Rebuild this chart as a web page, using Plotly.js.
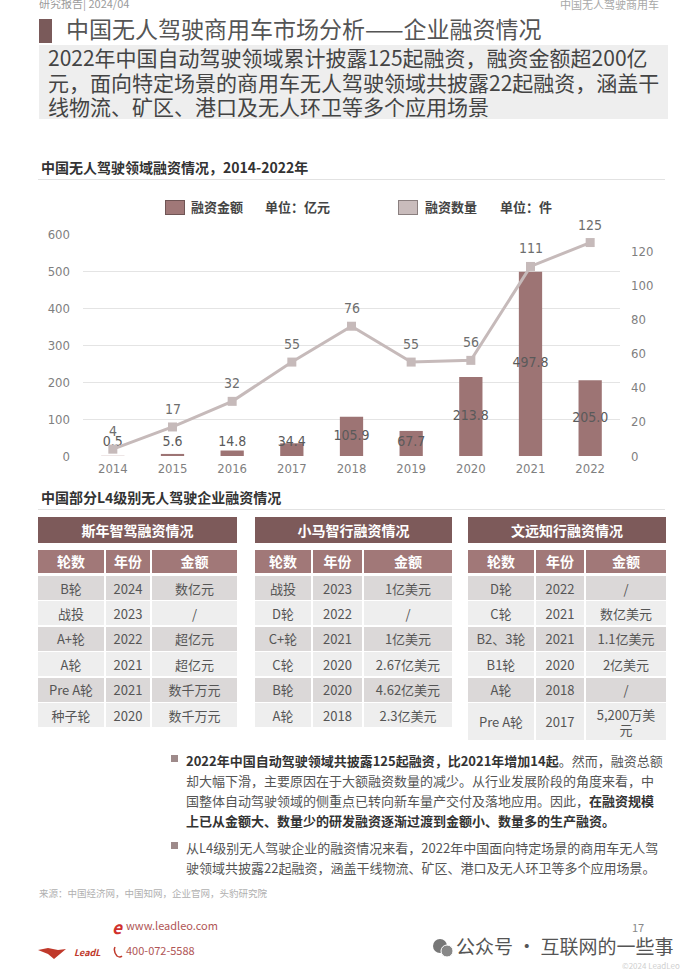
<!DOCTYPE html>
<html><head><meta charset="utf-8">
<script src="https://cdn.plot.ly/plotly-3.0.1.min.js"></script>
<style>
body{margin:0;width:700px;height:978px;position:relative;background:#fff;font-family:"Noto Sans CJK SC","Noto Sans",sans-serif;overflow:hidden;}
.a{position:absolute;white-space:nowrap;}
.cell{position:absolute;display:flex;align-items:center;justify-content:center;text-align:center;font-size:13px;color:#555;line-height:15px;}
</style></head><body>
<script>
// ---------- DATA ----------
const years = ["2014","2015","2016","2017","2018","2019","2020","2021","2022"];
const amounts = [0.5, 5.6, 14.8, 34.4, 105.9, 67.7, 213.8, 497.8, 205.0];
const counts = [4, 17, 32, 55, 76, 55, 56, 111, 125];
const leftTicks = [0,100,200,300,400,500,600];
const rightTicks = [0,20,40,60,80,100,120];
const tableHeads = ["轮数","年份","金额"];
const t1Title = "斯年智驾融资情况";
const t1Round = ["B轮","战投","A+轮","A轮","Pre A轮","种子轮"];
const t1Year = ["2024","2023","2022","2021","2021","2020"];
const t1Amount = ["数亿元","/","超亿元","超亿元","数千万元","数千万元"];
const t2Title = "小马智行融资情况";
const t2Round = ["战投","D轮","C+轮","C轮","B轮","A轮"];
const t2Year = ["2023","2022","2021","2020","2020","2018"];
const t2Amount = ["1亿美元","/","1亿美元","2.67亿美元","4.62亿美元","2.3亿美元"];
const t3Title = "文远知行融资情况";
const t3Round = ["D轮","C轮","B2、3轮","B1轮","A轮","Pre A轮"];
const t3Year = ["2022","2021","2021","2020","2018","2017"];
const t3Amount = ["/","数亿美元","1.1亿美元","2亿美元","/","5,200万美<br>元"];
</script>

<div class="a" style="left:39px;top:-5px;font-size:11px;color:#9a9a9a;">研究报告| 2024/04</div>
<div class="a" style="left:560px;top:-4px;font-size:11px;color:#a8a8a8;">中国无人驾驶商用车</div>

<div class="a" style="left:39px;top:19px;width:13px;height:24px;background:#7a5a5a;"></div>
<div class="a" style="left:66px;top:13px;font-size:23px;line-height:30px;color:#555;">中国无人驾驶商用车市场分析——企业融资情况</div>

<div class="a" style="left:39px;top:45px;width:629px;height:74px;background:#eeeeee;"></div>
<div class="a" style="left:48px;top:45px;font-size:21px;line-height:24.5px;color:#444;">2022年中国自动驾驶领域累计披露125起融资，融资金额超200亿<br>元，面向特定场景的商用车无人驾驶领域共披露22起融资，涵盖干<br>线物流、矿区、港口及无人环卫等多个应用场景</div>

<div class="a" style="left:41px;top:157px;font-size:14px;font-weight:bold;color:#333;">中国无人驾驶领域融资情况，2014-2022年</div>
<div class="a" style="left:38px;top:179px;width:627px;height:1px;background:#e2e2e2;"></div>

<div class="a" style="left:165px;top:200px;width:18px;height:13px;background:#a07878;border:1px solid #6f5555;"></div>
<div class="a" style="left:191px;top:197px;font-size:13px;color:#444;font-weight:bold;">融资金额</div>
<div class="a" style="left:265px;top:197px;font-size:13px;color:#444;font-weight:bold;">单位：亿元</div>
<div class="a" style="left:398px;top:200px;width:18px;height:13px;background:#c9bcbc;border:1px solid #8a7f7f;"></div>
<div class="a" style="left:425px;top:197px;font-size:13px;color:#444;font-weight:bold;">融资数量</div>
<div class="a" style="left:500px;top:197px;font-size:13px;color:#444;font-weight:bold;">单位：件</div>

<div id="chart" class="a" style="left:0;top:215px;width:700px;height:275px;"></div>

<div class="a" style="left:41px;top:487px;font-size:14px;font-weight:bold;color:#333;">中国部分L4级别无人驾驶企业融资情况</div>
<div class="a" style="left:38px;top:509px;width:627px;height:1px;background:#e2e2e2;"></div>

<div id="tables"></div>

<div class="a" style="left:171px;top:755px;width:7px;height:7px;background:#9e8a8a;"></div>
<div class="a" style="left:186px;top:751px;font-size:13px;line-height:20px;color:#555;"><b style="color:#333">2022年中国自动驾驶领域共披露125起融资，比2021年增加14起</b>。然而，融资总额<br>却大幅下滑，主要原因在于大额融资数量的减少。从行业发展阶段的角度来看，中<br>国整体自动驾驶领域的侧重点已转向新车量产交付及落地应用。因此，<b style="color:#333">在融资规模<br>上已从金额大、数量少的研发融资逐渐过渡到金额小、数量多的生产融资。</b></div>
<div class="a" style="left:171px;top:842px;width:7px;height:7px;background:#9e8a8a;"></div>
<div class="a" style="left:186px;top:838px;font-size:13px;line-height:20px;color:#555;">从L4级别无人驾驶企业的融资情况来看，2022年中国面向特定场景的商用车无人驾<br>驶领域共披露22起融资，涵盖干线物流、矿区、港口及无人环卫等多个应用场景。</div>

<div class="a" style="left:39px;top:886px;font-size:9.5px;color:#b0b0b0;">来源：中国经济网，中国知网，企业官网，头豹研究院</div>

<svg class="a" style="left:36px;top:946px;" width="34" height="14"><path d="M2 4 L12 2 L22 4 L30 3 L24 8 L18 13 L12 8 Z" fill="#c0392b"/></svg>
<div class="a" style="left:74px;top:946px;font-size:9px;font-style:italic;font-weight:bold;color:#c0392b;">LeadL</div>
<div class="a" style="left:112px;top:914px;font-size:17px;font-style:italic;font-weight:bold;color:#d0312d;">e</div>
<div class="a" style="left:126px;top:917px;font-size:11px;color:#b05555;">www.leadleo.com</div>
<svg class="a" style="left:112px;top:945px;" width="12" height="13"><path d="M3 2 Q1 6 5 11 Q8 13 10 11" stroke="#c0392b" stroke-width="1.5" fill="none"/></svg>
<div class="a" style="left:126px;top:942px;font-size:11px;color:#b05555;">400-072-5588</div>

<div class="a" style="left:632px;top:919px;font-size:11px;color:#888;">17</div>
<svg class="a" style="left:432px;top:938px;" width="22" height="20"><circle cx="8" cy="8" r="7" fill="#777"/><circle cx="15" cy="13" r="6" fill="#888" stroke="#fff" stroke-width="1"/></svg>
<div class="a" style="left:456px;top:934px;font-size:19px;line-height:24px;color:#555;">公众号 · 互联网的一些事</div>
<div class="a" style="left:622px;top:960px;font-size:8px;color:#cfcfcf;">©2024 LeadLeo</div>

<script>
// ---------- TABLES ----------
function buildTable(left, colX, title, rounds, yrs, amts, lastTall){
  const host = document.getElementById('tables');
  const right = colX[colX.length-1][1];
  const t = document.createElement('div');
  t.className='cell';
  t.style.cssText += `left:${left}px;top:517px;width:${right-left}px;height:26px;background:#7d5a5a;color:#fff;font-weight:bold;font-size:14px;`;
  t.textContent = title; host.appendChild(t);
  tableHeads.forEach((h,j)=>{
    const c=document.createElement('div'); c.className='cell';
    c.style.cssText += `left:${colX[j][0]}px;top:550px;width:${colX[j][1]-colX[j][0]}px;height:23px;background:#a17878;color:#fff;font-weight:bold;font-size:14px;`;
    c.textContent=h; host.appendChild(c);
  });
  const cols=[rounds,yrs,amts];
  rounds.forEach((_,i)=>{
    const top = 576 + i*25.4;
    const h = (lastTall && i===rounds.length-1) ? 37 : 24;
    const bg = i%2===0 ? '#dbd8d8' : '#eeeeee';
    cols.forEach((col,j)=>{
      const c=document.createElement('div'); c.className='cell';
      c.style.cssText += `left:${colX[j][0]}px;top:${top}px;width:${colX[j][1]-colX[j][0]}px;height:${h}px;background:${bg};`;
      c.innerHTML=col[i]; host.appendChild(c);
    });
  });
}
buildTable(38, [[38,104],[106,150],[152,237]], t1Title, t1Round, t1Year, t1Amount, false);
buildTable(255, [[255,311],[313,362],[364,452]], t2Title, t2Round, t2Year, t2Amount, false);
buildTable(468, [[468,534],[536,584],[586,666]], t3Title, t3Round, t3Year, t3Amount, true);

// ---------- CHART ----------
const numFont = '"Liberation Sans Narrow","DejaVu Sans Condensed","Liberation Sans",sans-serif';
const barTrace = {
  type:'bar', x:years, y:amounts, width:0.39,
  marker:{color:'#9d7474'}, hoverinfo:'skip', showlegend:false
};
const barLabels = {
  type:'scatter', mode:'text', x:years, y:amounts.map(v=>Math.max(v/2,36)),
  text:amounts.map(v=>v.toFixed(1)), textposition:'middle center',
  textfont:{family:numFont,size:14,color:'#5a5a5a'}, cliponaxis:false,
  hoverinfo:'skip', showlegend:false
};
const lineTrace = {
  type:'scatter', mode:'lines+markers', x:years, y:counts, yaxis:'y2',
  line:{color:'#c6baba',width:3}, marker:{symbol:'square',size:9,color:'#c6baba'},
  hoverinfo:'skip', showlegend:false, cliponaxis:false
};
// category axis: annotations are placed by category index
const annotations = counts.map((c,i)=>({
  x:i, y:c, xref:'x', yref:'y2', text:String(c), showarrow:false, yshift:18,
  font:{family:numFont,size:14,color:'#6e6e6e'}
}));
const layout = {
  width:700, height:275,
  margin:{l:83,r:80,t:19,b:34},
  paper_bgcolor:'rgba(0,0,0,0)', plot_bgcolor:'rgba(0,0,0,0)',
  showlegend:false,
  xaxis:{type:'category', categoryorder:'array', categoryarray:years, range:[-0.5, years.length-0.5],
    showgrid:false, showline:false, zeroline:false, ticks:'', ticklabelstandoff:3,
    tickfont:{family:numFont,size:13,color:'#7f7f7f'}},
  yaxis:{range:[0,600], tickvals:leftTicks, showgrid:true, gridcolor:'#e4e4e4', gridwidth:1,
    zeroline:false, showline:false, ticks:'', ticklabelstandoff:12,
    tickfont:{family:numFont,size:13,color:'#7f7f7f'}},
  yaxis2:{range:[0,130], tickvals:rightTicks, overlaying:'y', side:'right', showgrid:false,
    zeroline:false, showline:false, ticks:'', ticklabelstandoff:10,
    tickfont:{family:numFont,size:13,color:'#7f7f7f'}},
  annotations:annotations
};
Plotly.newPlot('chart',[barTrace,lineTrace,barLabels],layout,{staticPlot:true,displayModeBar:false});
</script>
</body></html>
